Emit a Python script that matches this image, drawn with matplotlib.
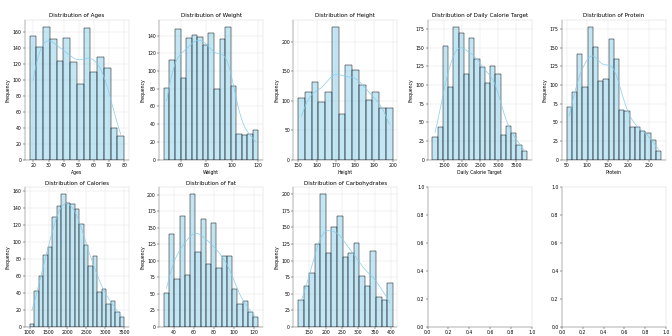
import numpy as np
import pandas as pd
import matplotlib
matplotlib.use('Agg')
import matplotlib.pyplot as plt
import seaborn as sns

# Histogram counts (bin range + counts per column)
ages_range = (17.5, 80)
ages_counts = [154, 141, 166, 151, 123, 152, 122, 95, 164, 109, 128, 115, 40, 29]

weight_range = (46.7, 120.6)
weight_counts = [81, 113, 147, 92, 137, 141, 139, 129, 143, 80, 136, 150, 83, 29, 28, 29, 33]

height_range = (150, 200)
height_counts = [105, 115, 131, 98, 115, 225, 78, 161, 152, 127, 101, 114, 87, 87]

target_range = (1178, 3804)
target_counts = [30, 44, 152, 97, 178, 170, 115, 163, 135, 124, 103, 125, 115, 33, 45, 35, 19, 12]

protein_range = (50, 281)
protein_counts = [71, 90, 142, 97, 178, 151, 106, 108, 161, 135, 66, 65, 44, 44, 38, 35, 26, 11]

calories_range = (1000, 3500)
calories_counts = [3, 42, 60, 85, 94, 129, 142, 156, 145, 144, 139, 121, 96, 72, 83, 41, 45, 27, 31, 17, 12]

fat_range = (30, 124.5)
fat_counts = [51, 141, 72, 168, 78, 201, 114, 164, 96, 158, 89, 108, 108, 58, 34, 39, 23, 15]

carbs_range = (116, 405)
carbs_counts = [41, 61, 81, 125, 200, 111, 150, 167, 105, 111, 126, 77, 61, 114, 45, 41, 66]

columns = ['Ages', 'Weight', 'Height', 'Daily Calorie Target', 'Protein',
           'Calories', 'Fat', 'Carbohydrates']
ranges = [ages_range, weight_range, height_range, target_range, protein_range,
          calories_range, fat_range, carbs_range]
counts = [ages_counts, weight_counts, height_counts, target_counts, protein_counts,
          calories_counts, fat_counts, carbs_counts]

fig, axes = plt.subplots(2, 5, figsize=(20, 10), dpi=33.6)
fig.subplots_adjust(left=0.037, right=0.991, top=0.940, bottom=0.027,
                    wspace=0.29, hspace=0.2)
axes = axes.flatten()

for ax in axes:
    for side in ['left', 'bottom']:
        ax.spines[side].set_color('#333333')
    for side in ['top', 'right']:
        ax.spines[side].set_color('#cccccc')
    ax.tick_params(labelsize=10)

for i, col in enumerate(columns):
    ax = axes[i]
    edges = np.linspace(ranges[i][0], ranges[i][1], len(counts[i]) + 1)
    binned = pd.DataFrame({col: (edges[:-1] + edges[1:]) / 2,
                           'n': np.array(counts[i], dtype=float)})
    sns.histplot(data=binned, x=col, weights='n', bins=list(edges), kde=True,
                 color='skyblue', edgecolor='black', ax=ax,
                 kde_kws={'bw_adjust': 0.55})
    ax.set_title(f'Distribution of {col}', fontsize=12)
    # bottom-row x labels fall below the cropped canvas in the reference
    ax.set_xlabel(col if i < 5 else '', fontsize=10)
    ax.set_ylabel('Frequency', fontsize=10)
    ax.grid(True, color='#e5e5e5', linewidth=1)
    ax.set_axisbelow(True)

plt.savefig('out.png', dpi=33.6)
